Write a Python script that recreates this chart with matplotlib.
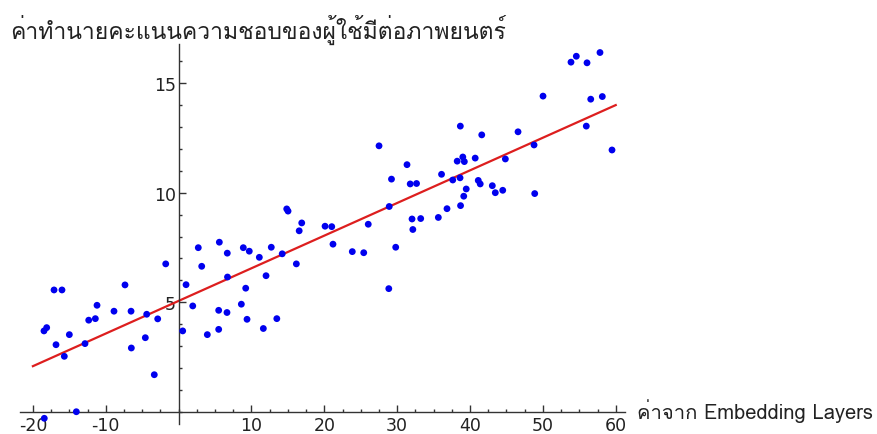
import matplotlib
matplotlib.use("Agg")
import matplotlib.pyplot as plt
from matplotlib import font_manager
from matplotlib.ft2font import FT2Font
from matplotlib.ticker import FixedLocator, MultipleLocator

plt.rcParams["axes.unicode_minus"] = False

# embedding value vs predicted rating
emb_x = [-18.48, -18.11, -17.10, -16.01, -16.83, -15.69, -15.00, -12.85, -12.34, -11.43,
         -11.20, -8.87, -7.36, -6.53, -6.49, -4.57, -4.38, -3.34, -2.87, -1.77,
         -18.44, -14.04, 0.56, 1.02, 1.94, 2.70, 3.17, 3.94, 5.50, 5.59,
         5.50, 6.64, 6.68, 6.71, 8.61, 8.88, 9.21, 9.39, 9.70, 11.08,
         11.63, 12.00, 12.72, 13.48, 14.22, 14.84, 15.02, 16.16, 16.55, 16.90,
         20.10, 21.02, 21.19, 23.84, 25.41, 26.03, 27.51, 28.85, 28.91, 29.22,
         29.80, 31.35, 31.79, 32.66, 32.04, 33.23, 32.15, 35.65, 36.09, 36.84,
         37.63, 38.63, 38.24, 39.01, 39.22, 38.70, 39.14, 39.48, 38.67, 40.71,
         41.13, 41.40, 41.61, 43.06, 43.47, 44.49, 44.85, 46.59, 48.79, 48.88,
         50.02, 53.86, 54.59, 56.06, 57.84, 56.57, 58.16, 55.96, 59.49]
rating = [3.69, 3.84, 5.56, 5.56, 3.06, 2.53, 3.52, 3.11, 4.18, 4.25,
          4.86, 4.59, 5.79, 4.59, 2.91, 3.38, 4.45, 1.69, 4.24, 6.75,
          -0.30, 0.00, 3.69, 5.80, 4.83, 7.49, 6.64, 3.52, 4.63, 7.74,
          3.76, 4.53, 7.24, 6.15, 4.91, 7.49, 5.64, 4.22, 7.33, 7.05,
          3.80, 6.21, 7.51, 4.25, 7.21, 9.26, 9.16, 6.75, 8.26, 8.62,
          8.47, 8.45, 7.65, 7.31, 7.26, 8.56, 12.14, 5.62, 9.37, 10.62,
          7.51, 11.28, 10.40, 10.42, 8.80, 8.82, 8.32, 8.87, 10.84, 9.27,
          10.58, 10.68, 11.44, 11.63, 11.42, 9.41, 9.84, 10.17, 13.04, 11.58,
          10.56, 10.40, 12.64, 10.32, 10.00, 10.11, 11.54, 12.78, 12.18, 9.96,
          14.41, 15.96, 16.23, 15.93, 16.40, 14.27, 14.39, 13.04, 11.95]

# fitted line end points
fit_x = [-20, 60]
fit_y = [2.08, 14.0]

x_major = [-20, -10, 10, 20, 30, 40, 50, 60]
y_major = [5, 10, 15]

y_title = "ค่าทำนายคะแนนความชอบของผู้ใช้มีต่อภาพยนตร์"
x_title = "ค่าจาก Embedding Layers"


def thai_fonts():
    found = []
    for f in font_manager.fontManager.ttflist:
        try:
            if ord("ค") in FT2Font(f.fname).get_charmap() and f.name not in found:
                found.append(f.name)
        except Exception:
            pass
    return found


families = thai_fonts() + ["DejaVu Sans"]

fig = plt.figure(figsize=(8.78, 4.35), dpi=100)
ax = fig.add_axes([0.0228, 0.023, 0.6891, 0.8736])

ax.plot(fit_x, fit_y, color="#dd1e1e", linewidth=1.6, zorder=2)
ax.scatter(emb_x, rating, s=24, color="#0000ee", edgecolors="none", zorder=3)

ax.set_xlim(-21.77, 61.28)
ax.set_ylim(-0.56, 16.79)

for side in ("top", "right"):
    ax.spines[side].set_visible(False)
for side in ("left", "bottom"):
    ax.spines[side].set_position(("data", 0))
    ax.spines[side].set_color("#333333")
    ax.spines[side].set_linewidth(1.0)

ax.xaxis.set_major_locator(FixedLocator(x_major))
ax.yaxis.set_major_locator(FixedLocator(y_major))
ax.xaxis.set_minor_locator(MultipleLocator(2.5))
ax.yaxis.set_minor_locator(MultipleLocator(1))
ax.tick_params(which="both", direction="in", color="#333333", width=1.0)
ax.tick_params(which="major", length=5, labelsize=12.5, labelcolor="#222222")
ax.tick_params(which="minor", length=2.5)
ax.tick_params(axis="x", which="major", pad=3)
ax.tick_params(axis="y", which="major", pad=2)

fig.text(10 / 878, 1 - 30 / 435, y_title, family=families, fontsize=16.5,
         va="center", ha="left", color="#222222")
fig.text(637 / 878, 1 - 411 / 435, x_title, family=families, fontsize=14.5,
         va="center", ha="left", color="#222222")

fig.savefig("out.png", dpi=100)
